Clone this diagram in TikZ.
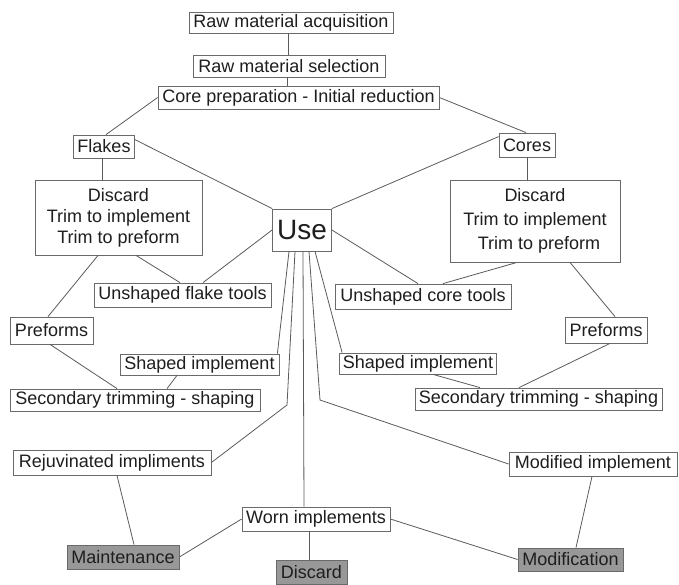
\documentclass[tikz,border=0pt]{standalone}
\usepackage{fontspec}
\setmainfont{Liberation Sans}
\begin{document}
\begin{tikzpicture}[x=1pt,y=-1pt,
  box/.style={draw=boxline, line width=0.8pt, fill=white, text=ink, inner sep=0pt,
    font=\fontsize{18}{21}\selectfont, align=center},
  darkbox/.style={box, fill=shade},
  link/.style={draw=wire, line width=0.8pt},
]
\definecolor{boxline}{HTML}{6A6A6A}
\definecolor{wire}{HTML}{5A5A5A}
\definecolor{ink}{HTML}{1E1E1E}
\definecolor{shade}{HTML}{989898}
\useasboundingbox (0,0) rectangle (679,585);

% ---- nodes ----
\node[box, minimum width=204pt, minimum height=21pt] (acq)    at (291,22.5)  {Raw material acquisition};
\node[box, minimum width=192pt, minimum height=22pt] (sel)    at (289,66)    {Raw material selection};
\node[box, minimum width=281pt, minimum height=23pt] (core)   at (298.5,97.5){Core preparation - Initial reduction};
\node[box, minimum width=61pt,  minimum height=23pt] (flakes) at (104,146.5) {Flakes};
\node[box, minimum width=56pt,  minimum height=24pt] (cores)  at (527,145)   {Cores};
\node[box, minimum width=167pt, minimum height=75pt] (discL) at (118.5,217.5)
  {Discard\\Trim to implement\\Trim to preform};
\node[box, minimum width=59pt,  minimum height=42pt, font=\fontsize{28}{30}\selectfont] (use) at (302,230) {Use};
\node[box, minimum width=170pt, minimum height=82pt, font=\fontsize{18}{24}\selectfont] (discR) at (535,221)
  {Discard\\Trim to implement\\\hspace*{8pt}Trim to preform};
\node[box, minimum width=177pt, minimum height=24pt] (uflake) at (182.5,295) {Unshaped flake tools};
\node[box, minimum width=176pt, minimum height=25pt] (ucore)  at (423,296.5) {Unshaped core tools};
\node[box, minimum width=83pt,  minimum height=27pt] (prefL)  at (51.5,330.5){Preforms};
\node[box, minimum width=82pt,  minimum height=26pt] (prefR)  at (606,330)   {Preforms};
\node[box, minimum width=159pt, minimum height=21pt] (shapL)  at (199.5,364.5){Shaped implement};
\node[box, minimum width=157pt, minimum height=21pt] (shapR)  at (418,363.5) {Shaped implement};
\node[box, minimum width=250pt, minimum height=22pt] (secL)   at (135,400)   {Secondary trimming - shaping};
\node[box, minimum width=247pt, minimum height=22pt] (secR)   at (538.5,399) {Secondary trimming - shaping};
\node[box, minimum width=198pt, minimum height=25pt] (rejuv)  at (112,462.5) {Rejuvinated impliments};
\node[box, minimum width=168pt, minimum height=24pt] (modimp) at (593,464)   {Modified implement};
\node[box, minimum width=148pt, minimum height=24pt] (worn)   at (316,519)   {Worn implements};
\node[darkbox, minimum width=112pt, minimum height=24pt] (maint) at (123,557)   {Maintenance};
\node[darkbox, minimum width=71pt,  minimum height=24pt] (discC) at (311.5,572.5){Discard};
\node[darkbox, minimum width=105pt, minimum height=23pt] (modif) at (570.5,559.5){Modification};

% bend points of the two long branches below Use
\coordinate (bendL) at (287,405);
\coordinate (bendR) at (320,400);

% ---- connectors ----
\draw[link] ([xshift=-3pt]acq.south) -- ([xshift=-1pt]sel.north);
\draw[link] ([xshift=-2pt]sel.south) -- ([xshift=-11.5pt]core.north);
\draw[link] (core.west) -- ([xshift=2pt]flakes.north);
\draw[link] (core.east) -- ([xshift=-1pt]cores.north);
\draw[link] ([yshift=-5pt]flakes.north east) -- (use.north west);
\draw[link] ([yshift=-4pt]cores.north west) -- (use.north east);
\draw[link] ([xshift=-2pt]flakes.south) -- ([xshift=-16.5pt]discL.north);
\draw[link] (cores.south) -- ([xshift=-8pt]discR.north);
\draw[link] ([xshift=-20.5pt]discL.south) -- ([xshift=-3.5pt]prefL.north);
\draw[link] ([xshift=17.5pt]discL.south) -- ([xshift=-2.5pt]uflake.north);
\draw[link] ([xshift=20.5pt]uflake.north) -- (use.west);
\draw[link] (use.east) -- ([xshift=-5pt]ucore.north);
\draw[link] ([xshift=-18pt]discR.south) -- ([xshift=20pt]ucore.north);
\draw[link] ([xshift=35pt]discR.south) -- ([xshift=9pt]prefR.north);
\draw[link] ([xshift=-1.5pt]prefL.south) -- ([xshift=-18pt]secL.north);
\draw[link] ([xshift=-22.5pt]shapL.south) -- ([xshift=32pt]secL.north);
\draw[link] ([xshift=4pt]prefR.south) -- ([xshift=-19.5pt]secR.north);
\draw[link] ([xshift=15pt]shapR.south) -- ([xshift=-58.5pt]secR.north);
\draw[link] ([xshift=-13pt]use.south) -- ([xshift=-2pt]shapL.north east);
\draw[link] ([xshift=-7pt]use.south) -- (bendL) -- (rejuv.east);
\draw[link] ([xshift=1pt]use.south) -- ([xshift=-12pt]worn.north);
\draw[link] ([xshift=7pt]use.south) -- (bendR) -- (modimp.west);
\draw[link] ([xshift=13pt]use.south) -- ([xshift=3pt]shapR.north west);
\draw[link] ([xshift=5pt]rejuv.south) -- ([xshift=11pt]maint.north);
\draw[link] (worn.west) -- (maint.east);
\draw[link] ([xshift=-7pt]worn.south) -- ([xshift=-2.5pt]discC.north);
\draw[link] (worn.east) -- (modif.west);
\draw[link] ([xshift=-1pt]modimp.south) -- ([xshift=5.5pt]modif.north);
\end{tikzpicture}
\end{document}
